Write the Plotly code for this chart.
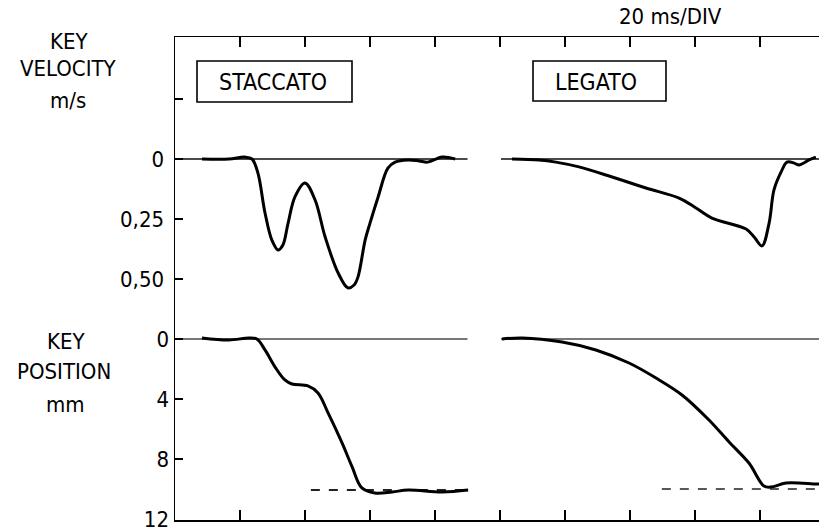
import plotly.graph_objects as go

# ---------------- data (time in ms on the common 20 ms/div sweep) ----------------
# Staccato key velocity (m/s, downward positive)
stac_vel_t = [8.3, 16.6, 21.5, 23.7, 25.5, 27.7, 29.8, 31.7, 33.2, 34.8, 36.9, 40.0, 43.1, 46.2,
              50.2, 53.2, 55.1, 56.3, 58.5, 60.0, 62.5, 65.5, 67.7, 71.7, 75.1, 77.8, 82.2, 86.2]
stac_vel_v = [0.0, 0.0, -0.008, 0.0, 0.058, 0.225, 0.338, 0.379, 0.358, 0.267, 0.158, 0.100, 0.171, 0.325,
              0.475, 0.537, 0.525, 0.492, 0.338, 0.267, 0.158, 0.038, 0.013, 0.004, 0.008, 0.013, -0.008, 0.0]

# Legato key velocity
leg_vel_t = [103.7, 112.0, 117.2, 124.3, 134.5, 144.9, 155.1, 160.3, 165.2, 175.7, 178.2, 180.6,
             182.8, 184.3, 186.5, 188.3, 190.5, 192.0, 195.1, 197.2]
leg_vel_v = [0.0, 0.004, 0.013, 0.033, 0.075, 0.121, 0.163, 0.204, 0.246, 0.292, 0.325, 0.362,
             0.267, 0.129, 0.054, 0.013, 0.017, 0.025, 0.004, -0.008]

# Staccato key position (mm, downward positive)
stac_pos_t = [8.3, 16.6, 22.8, 25.2, 27.7, 30.8, 33.8, 36.0, 40.9, 44.0, 47.1, 51.4, 54.5, 57.5,
              61.5, 66.8, 71.7, 82.2, 90.2]
stac_pos_p = [-0.07, 0.07, -0.07, 0.0, 0.73, 1.87, 2.73, 3.0, 3.13, 3.6, 4.93, 6.93, 8.53, 9.93,
              10.27, 10.2, 10.07, 10.2, 10.07]

# Legato key position
leg_pos_t = [100.6, 106.8, 119.1, 129.5, 139.7, 148.0, 156.0, 164.3, 170.5, 176.6, 181.2, 183.4,
             188.0, 197.5, 200.0]
leg_pos_p = [0.0, -0.07, 0.2, 0.73, 1.6, 2.6, 3.73, 5.4, 6.87, 8.27, 9.8, 9.87, 9.6, 9.67, 9.67]

# reference lines (zero traces and key-bottom levels)
stac_window = [0.0, 90.0]
leg_window = [100.3, 200.0]
stac_bottom_t = [41.8, 90.2]
stac_bottom_p = [10.07, 10.07]
leg_bottom_t = [149.8, 200.0]
leg_bottom_p = [10.0, 10.0]

# axis ticks
time_ticks = [20, 40, 60, 80, 100, 120, 140, 160, 180]
vel_ticks = [-0.25, 0, 0.25, 0.5]
vel_labels = ["", "0", "0,25", "0,50"]
pos_ticks = [0, 4, 8, 12]
pos_labels = ["0", "4", "8", "12"]

# ---------------- layout geometry ----------------
# The original frame spans 10 divisions (200 ms) and its right edge lies just
# outside the 819 px window, so the figure is slightly wider and clipped.
W, H = 830, 531
L, T, B = 175, 37, 520          # frame edges in pixels
PW, PH = 650, B - T
R = W - L - PW
FONT = "DejaVu Sans Condensed, Liberation Sans Narrow, DejaVu Sans, sans-serif"


def px(x):
    return (x - L) / PW


def py(y):
    return (B - y) / PH


fig = go.Figure()

base = dict(color="#4a4a4a", width=2)
curve = dict(color="black", width=3, shape="spline", smoothing=1.0)

# zero lines
for win in (stac_window, leg_window):
    fig.add_trace(go.Scatter(x=win, y=[0, 0], mode="lines", line=base, yaxis="y", hoverinfo="skip"))
    fig.add_trace(go.Scatter(x=win, y=[0, 0], mode="lines", line=dict(color="#4a4a4a", width=1.5),
                             yaxis="y2", hoverinfo="skip"))

# key-bottom reference (dashed)
fig.add_trace(go.Scatter(x=stac_bottom_t, y=stac_bottom_p, mode="lines",
                         line=dict(color="#222", width=2, dash="dash"), yaxis="y2"))
fig.add_trace(go.Scatter(x=leg_bottom_t, y=leg_bottom_p, mode="lines",
                         line=dict(color="#222", width=1.5, dash="dash"), yaxis="y2"))

# curves
fig.add_trace(go.Scatter(x=stac_vel_t, y=stac_vel_v, mode="lines", line=curve, yaxis="y"))
fig.add_trace(go.Scatter(x=leg_vel_t, y=leg_vel_v, mode="lines", line=curve, yaxis="y"))
fig.add_trace(go.Scatter(x=stac_pos_t, y=stac_pos_p, mode="lines", line=curve, yaxis="y2"))
fig.add_trace(go.Scatter(x=leg_pos_t, y=leg_pos_p, mode="lines", line=curve, yaxis="y2"))

annotations = []


def txt(s, x, y, size=22):
    annotations.append(dict(text=s, x=px(x), y=py(y), xref="paper", yref="paper",
                            showarrow=False, xanchor="center", yanchor="middle",
                            font=dict(family=FONT, size=size, color="black")))


txt("KEY", 69, 42)
txt("VELOCITY", 68, 69)
txt("m/s", 68, 101)
txt("KEY", 66, 341)
txt("POSITION", 64, 372)
txt("mm", 65, 404)
txt("20 ms/DIV", 670, 16, 22)
txt("STACCATO", 273, 82, 23)
txt("LEGATO", 596, 82, 23)

shapes = [
    dict(type="rect", xref="paper", yref="paper", x0=px(197), x1=px(352), y0=py(61), y1=py(102),
         line=dict(color="black", width=1.6)),
    dict(type="rect", xref="paper", yref="paper", x0=px(533), x1=px(666), y0=py(61), y1=py(101),
         line=dict(color="black", width=1.6)),
]

fig.update_layout(
    width=W, height=H,
    margin=dict(l=L, r=R, t=T, b=H - B, pad=0),
    paper_bgcolor="white", plot_bgcolor="white",
    showlegend=False,
    hovermode=False,
    dragmode=False,
    annotations=annotations,
    shapes=shapes,
    font=dict(family=FONT, size=22, color="black"),
    xaxis=dict(range=[0, 200], showgrid=False, zeroline=False, automargin=False,
               showline=True, linecolor="black", linewidth=1.5, mirror="ticks",
               ticks="inside", ticklen=10, tickwidth=1.5, tickcolor="black",
               tickvals=time_ticks, showticklabels=False, showspikes=False),
    yaxis=dict(range=[(B - 159) / 240, (T - 159) / 240], showgrid=False, zeroline=False,
               automargin=False, showline=True, linecolor="black", linewidth=1.5,
               ticks="inside", ticklen=8, tickwidth=1.5, tickcolor="black",
               tickvals=vel_ticks, ticktext=vel_labels, ticklabelstandoff=5,
               ticklabeloverflow="allow", showspikes=False,
               tickfont=dict(family=FONT, size=22, color="black")),
    yaxis2=dict(range=[(B - 339) / 15, (T - 339) / 15], overlaying="y", side="left",
                showgrid=False, zeroline=False, showline=False, automargin=False,
                ticks="inside", ticklen=8, tickwidth=1.5, tickcolor="black",
                tickvals=pos_ticks, ticktext=pos_labels, ticklabelstandoff=5,
                ticklabeloverflow="allow", showspikes=False,
                tickfont=dict(family=FONT, size=22, color="black")),
)

fig.write_html(
    "out.html",
    config={"displayModeBar": False, "staticPlot": True},
    post_script="document.body.style.margin='0';document.body.style.overflow='hidden';"
                "document.documentElement.style.overflow='hidden';",
)
